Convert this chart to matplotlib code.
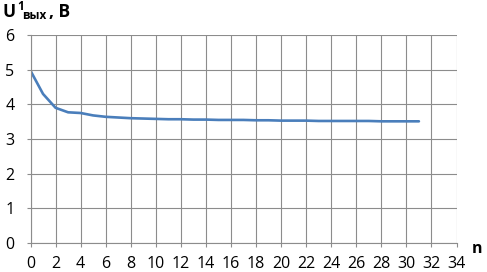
import matplotlib
matplotlib.use("Agg")
import matplotlib.pyplot as plt

plt.rcParams['font.family'] = ['Open Sans', 'DejaVu Sans']

n = list(range(0, 32))
u = [4.97, 4.30, 3.90, 3.77, 3.75, 3.68, 3.64, 3.62, 3.60, 3.59, 3.58, 3.57,
     3.57, 3.56, 3.56, 3.55, 3.55, 3.55, 3.54, 3.54, 3.53, 3.53, 3.53, 3.52,
     3.52, 3.52, 3.52, 3.52, 3.51, 3.51, 3.51, 3.51]
xticks = list(range(0, 35, 2))
yticks = list(range(0, 7))

fig = plt.figure(figsize=(4.87, 2.72), dpi=100)
ax = fig.add_axes([30.5/487, 1-243/272, (456.5-30.5)/487, (243-35)/272])
ax.plot(n, u, color='#4A7EBB', lw=1.9, solid_capstyle='round', solid_joinstyle='round')
ax.set_xlim(0, 34)
ax.set_ylim(0, 6)
ax.set_xticks(xticks)
ax.set_yticks(yticks)
ax.grid(True, color='#8C8C8C', lw=0.8)
ax.set_axisbelow(True)
for s in ['left', 'bottom']:
    ax.spines[s].set_color('#8C8C8C')
    ax.spines[s].set_linewidth(0.8)
for s in ['top', 'right']:
    ax.spines[s].set_visible(False)
ax.tick_params(axis='both', colors='#8C8C8C', labelcolor='black', labelsize=11.5,
               length=3, width=0.8, direction='out')
ax.tick_params(axis='x', pad=6.5)
ax.tick_params(axis='y', pad=8.5)

fig.text(3/487, 1-17/272, 'U', fontsize=12.5, fontweight='bold', ha='left', va='baseline')
fig.text(17/487, 1-10.5/272, '1', fontsize=8.5, fontweight='bold', ha='left', va='baseline')
fig.text(22.5/487, 1-19/272, 'вых', fontsize=8.5, fontweight='bold', ha='left', va='baseline')
fig.text(49/487, 1-17/272, ', В', fontsize=12.5, fontweight='bold', ha='left', va='baseline')
fig.text(472/487, 1-253/272, 'n', fontsize=11.5, fontweight='bold', ha='left', va='baseline')

fig.savefig('out.png', dpi=100)
